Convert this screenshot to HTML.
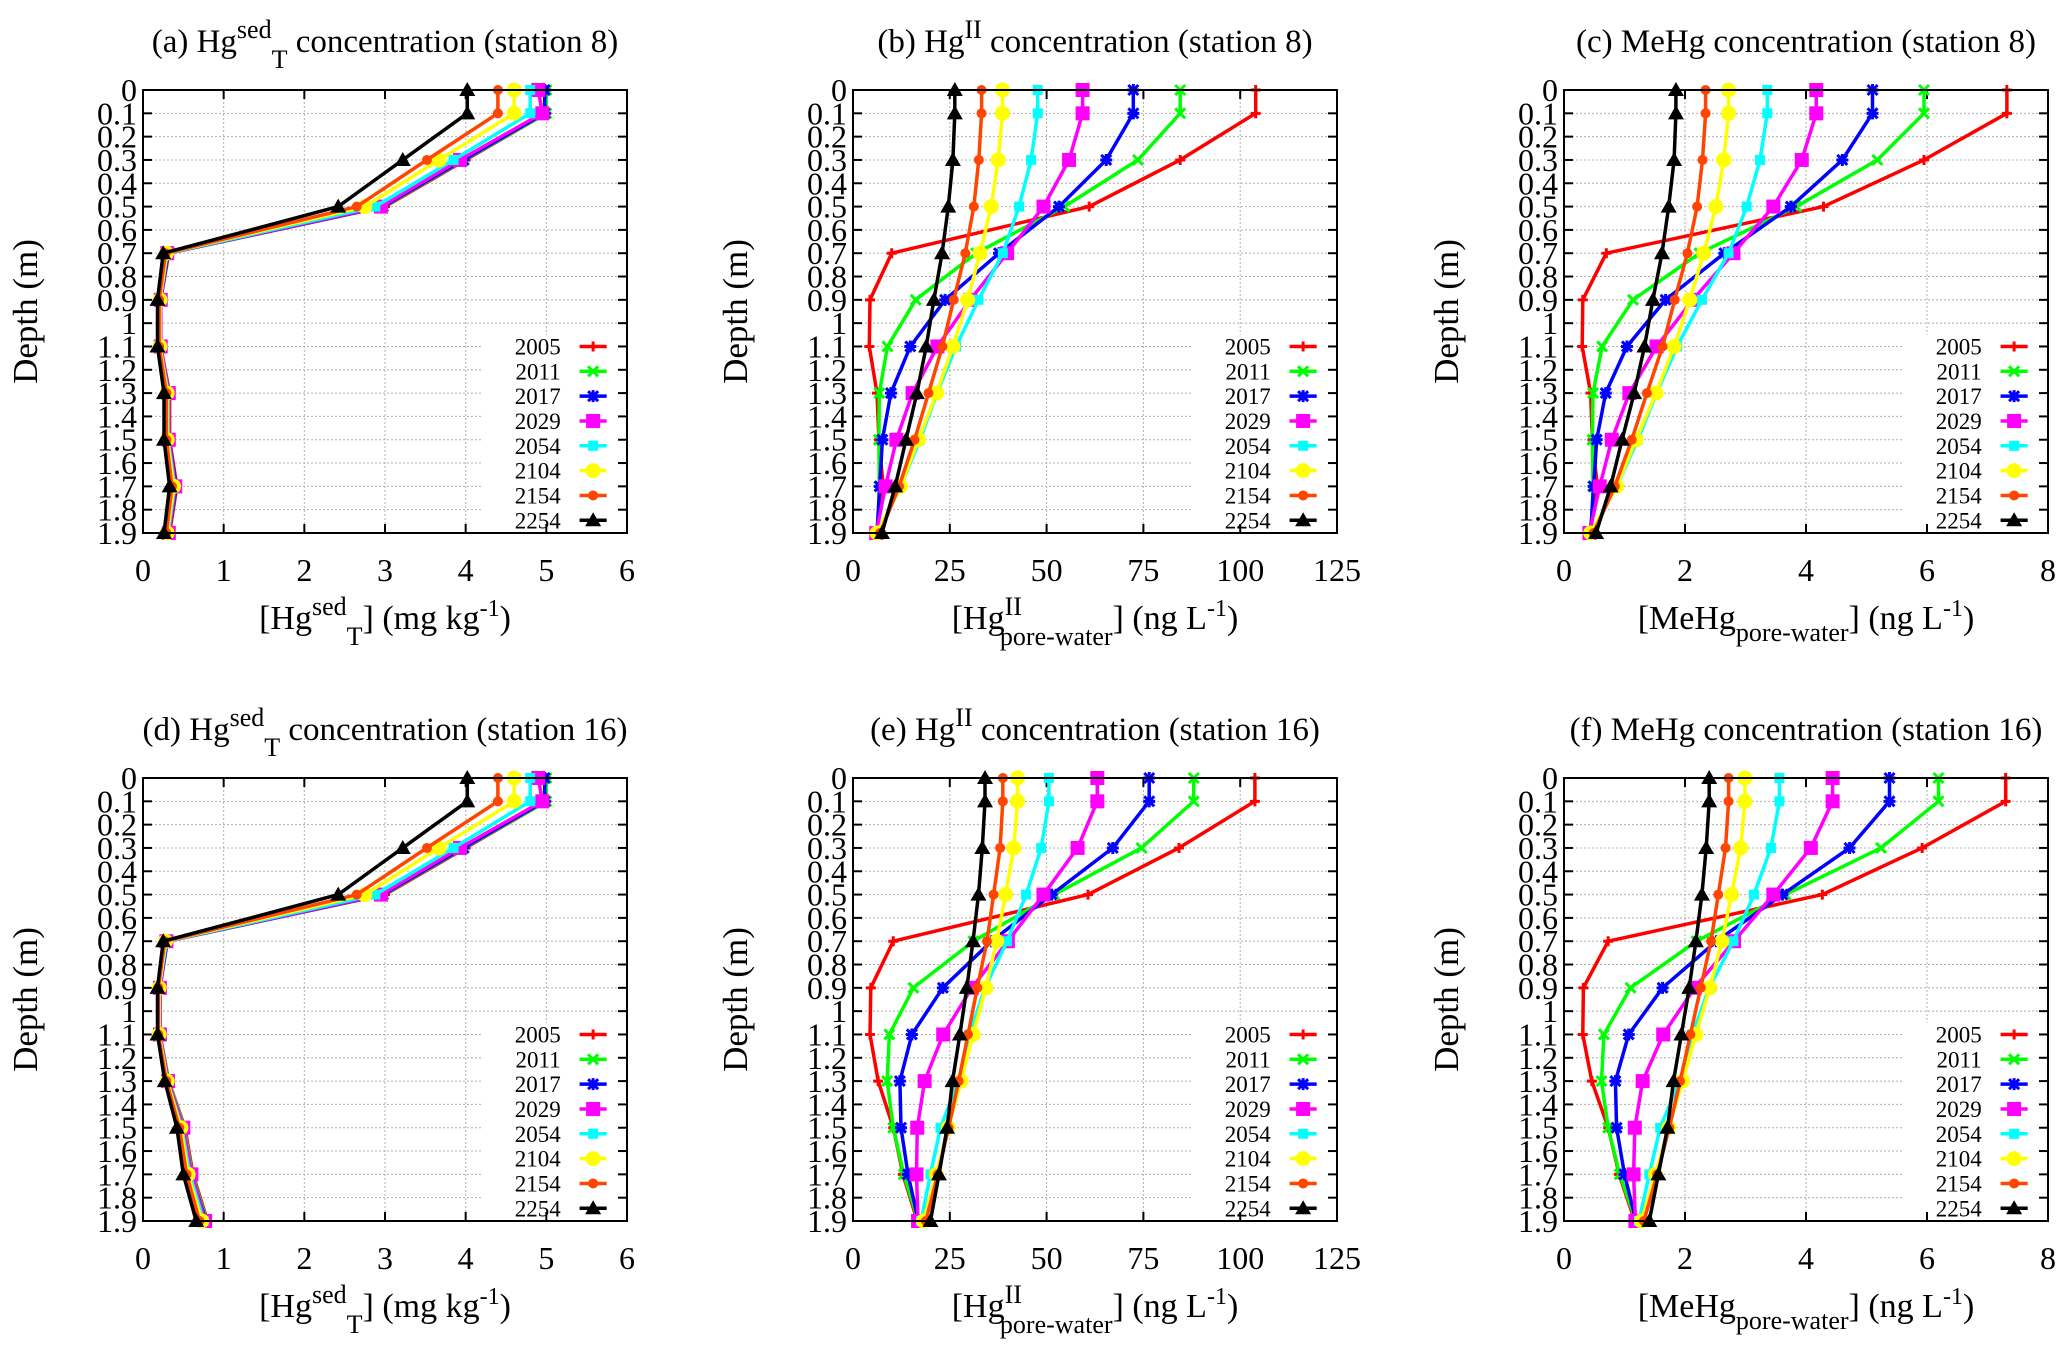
<!DOCTYPE html>
<html><head><meta charset="utf-8">
<style>
html,body{margin:0;padding:0;background:#fff;}
svg{display:block;font-family:"Liberation Serif",serif;}
</style></head>
<body>
<svg id="fig" width="2067" height="1347" viewBox="0 0 2067 1347" xmlns="http://www.w3.org/2000/svg"></svg>
<script>
const depths=[0,0.1,0.3,0.5,0.7,0.9,1.1,1.3,1.5,1.7,1.9];
const years=["2005","2011","2017","2029","2054","2104","2154","2254"];
const yTicks=["0","0.1","0.2","0.3","0.4","0.5","0.6","0.7","0.8","0.9","1","1.1","1.2","1.3","1.4","1.5","1.6","1.7","1.8","1.9"];
const ticksA=["0","1","2","3","4","5","6"];
const ticksB=["0","25","50","75","100","125"];
const ticksC=["0","2","4","6","8"];
// panel a: Hg sed station 8
const a2005=[5.0,5.0,4.0,3.0,0.32,0.22,0.22,0.33,0.33,0.42,0.33];
const a2011=[5.0,5.0,3.98,2.98,0.31,0.22,0.22,0.32,0.32,0.41,0.32];
const a2017=[4.98,4.98,3.97,2.97,0.31,0.22,0.22,0.32,0.32,0.41,0.32];
const a2029=[4.9,4.95,3.93,2.95,0.3,0.22,0.22,0.32,0.32,0.4,0.32];
const a2054=[4.8,4.8,3.85,2.88,0.3,0.21,0.21,0.31,0.31,0.39,0.31];
const a2104=[4.6,4.6,3.67,2.75,0.29,0.21,0.21,0.3,0.3,0.38,0.3];
const a2154=[4.4,4.4,3.52,2.65,0.28,0.2,0.2,0.29,0.29,0.36,0.29];
const a2254=[4.02,4.02,3.22,2.42,0.25,0.18,0.18,0.26,0.26,0.33,0.26];
// panel d: Hg sed station 16
const d2005=[5.0,5.0,4.0,3.0,0.3,0.21,0.21,0.32,0.52,0.62,0.8];
const d2011=[5.0,5.0,3.98,2.98,0.3,0.21,0.21,0.32,0.51,0.61,0.79];
const d2017=[4.98,4.98,3.97,2.97,0.3,0.21,0.21,0.31,0.5,0.6,0.78];
const d2029=[4.9,4.95,3.93,2.95,0.29,0.21,0.21,0.31,0.5,0.6,0.77];
const d2054=[4.8,4.8,3.85,2.88,0.29,0.2,0.2,0.3,0.48,0.58,0.75];
const d2104=[4.6,4.6,3.67,2.75,0.28,0.2,0.2,0.3,0.47,0.56,0.73];
const d2154=[4.4,4.4,3.52,2.65,0.27,0.19,0.19,0.29,0.45,0.54,0.7];
const d2254=[4.02,4.02,3.22,2.42,0.25,0.18,0.18,0.27,0.42,0.5,0.66];
// panel b: HgII station 8
const b2005=[104,104,84.5,61,10,4.4,4.2,6.2,6.7,7.8,6];
const b2011=[84.5,84.5,73.6,54.6,31.8,16.2,8.9,6.8,6.7,6.8,6.4];
const b2017=[72.4,72.4,65.4,53.2,37.7,23.8,14.8,9.8,7.6,6.9,6.2];
const b2029=[59.3,59.3,55.8,49.2,39.8,30.3,21.8,15.4,11.2,8.4,6];
const b2054=[47.7,47.7,46,42.9,38.7,32.4,26.6,21.7,17.3,12.3,6.4];
const b2104=[38.6,38.6,37.5,35.7,32.8,29.6,25.8,21.6,16.9,12.3,6.2];
const b2154=[33.2,33.2,32.5,31.2,29,26,23.1,19.5,15.9,11.9,7];
const b2254=[26.3,26.3,25.8,24.6,23,20.9,18.9,16.5,13.7,10.9,7.5];
// panel e: HgII station 16
const e2005=[103.8,103.8,84.2,60.7,10.4,4.6,4.4,6.5,10.4,12.9,16.6];
const e2011=[88,88,74.5,52,31.1,15.6,9.4,8.8,10.4,13.1,16.9];
const e2017=[76.5,76.5,67.1,51.3,35.8,23.2,15.2,12.1,12.4,14.2,16.9];
const e2029=[63.1,63.1,58,49.2,40,30.7,23.3,18.5,16.6,16.4,16.8];
const e2054=[50.6,50.6,48.6,44.7,39.8,34.1,30.1,27.2,22.6,20,17.6];
const e2104=[42.5,42.5,41.5,39.4,37.1,34.3,31,27.9,24.6,21.5,18.2];
const e2154=[38.7,38.7,38,36.3,34.6,32.1,29.7,27.3,24.7,21.9,18.8];
const e2254=[34.1,34.1,33.4,32.4,31,29.4,27.6,25.7,24.3,22.2,20];
// panel c: MeHg station 8
const c2005=[7.32,7.32,5.95,4.29,0.7,0.31,0.3,0.44,0.47,0.55,0.42];
const c2011=[5.95,5.95,5.18,3.84,2.24,1.14,0.63,0.48,0.47,0.48,0.45];
const c2017=[5.1,5.1,4.6,3.75,2.65,1.68,1.04,0.69,0.54,0.49,0.44];
const c2029=[4.17,4.17,3.93,3.46,2.8,2.13,1.53,1.08,0.79,0.59,0.42];
const c2054=[3.36,3.36,3.24,3.02,2.72,2.28,1.87,1.53,1.22,0.87,0.45];
const c2104=[2.72,2.72,2.64,2.51,2.31,2.08,1.82,1.52,1.19,0.87,0.44];
const c2154=[2.34,2.34,2.29,2.2,2.04,1.83,1.63,1.37,1.12,0.84,0.49];
const c2254=[1.85,1.85,1.82,1.73,1.62,1.47,1.33,1.16,0.96,0.77,0.53];
// panel f: MeHg station 16
const f2005=[7.3,7.3,5.92,4.27,0.73,0.32,0.31,0.46,0.73,0.91,1.17];
const f2011=[6.19,6.19,5.24,3.66,2.19,1.1,0.66,0.62,0.73,0.92,1.19];
const f2017=[5.38,5.38,4.72,3.61,2.52,1.63,1.07,0.85,0.87,1.0,1.19];
const f2029=[4.44,4.44,4.08,3.46,2.81,2.16,1.64,1.3,1.17,1.15,1.18];
const f2054=[3.56,3.56,3.42,3.14,2.8,2.4,2.12,1.91,1.59,1.41,1.24];
const f2104=[2.99,2.99,2.92,2.77,2.61,2.41,2.18,1.96,1.73,1.51,1.28];
const f2154=[2.72,2.72,2.67,2.55,2.43,2.26,2.09,1.92,1.74,1.54,1.32];
const f2254=[2.4,2.4,2.35,2.28,2.18,2.07,1.94,1.81,1.71,1.56,1.41];

const colors=["#ff0000","#00ff00","#0000ff","#ff00ff","#00ffff","#ffff00","#ff4500","#000000"];
const markers=["plus","cross","star","bigsq","smsq","circle","dot","tri"];
const NS="http://www.w3.org/2000/svg";
const svg=document.getElementById('fig');
function mk(tag,attrs,parent){const e=document.createElementNS(NS,tag);for(const k in attrs)e.setAttribute(k,attrs[k]);(parent||svg).appendChild(e);return e;}

const W=484, H=443;
const SUP='font-size="26"';
const tHg='Hg<tspan baseline-shift="super" '+SUP+'>sed</tspan><tspan '+SUP+' dy="16">T</tspan><tspan dy="-16">';
const panels=[
 {id:"a",x:143,y:90,max:6,ticks:ticksA,series:[a2005,a2011,a2017,a2029,a2054,a2104,a2154,a2254],title:'(a) '+tHg+'  concentration (station 8)</tspan>',xt:'['+tHg+'] (mg kg</tspan><tspan baseline-shift="super" font-size="24">-1</tspan>)'},
 {id:"b",x:853,y:90,max:125,ticks:ticksB,series:[b2005,b2011,b2017,b2029,b2054,b2104,b2154,b2254],title:'(b) Hg<tspan baseline-shift="super" '+SUP+'>II</tspan> concentration (station 8)',xt:'[Hg<tspan dy="-14" '+SUP+'>II</tspan><tspan '+SUP+' dx="-22" dy="30">pore-water</tspan><tspan dy="-16">] (ng L</tspan><tspan baseline-shift="super" font-size="24">-1</tspan>)'},
 {id:"c",x:1564,y:90,max:8,ticks:ticksC,series:[c2005,c2011,c2017,c2029,c2054,c2104,c2154,c2254],title:'(c) MeHg concentration (station 8)',xt:'[MeHg<tspan '+SUP+' dy="12">pore-water</tspan><tspan dy="-12">] (ng L</tspan><tspan baseline-shift="super" font-size="24">-1</tspan>)'},
 {id:"d",x:143,y:778,max:6,ticks:ticksA,series:[d2005,d2011,d2017,d2029,d2054,d2104,d2154,d2254],title:'(d) '+tHg+'  concentration (station 16)</tspan>',xt:'['+tHg+'] (mg kg</tspan><tspan baseline-shift="super" font-size="24">-1</tspan>)'},
 {id:"e",x:853,y:778,max:125,ticks:ticksB,series:[e2005,e2011,e2017,e2029,e2054,e2104,e2154,e2254],title:'(e) Hg<tspan baseline-shift="super" '+SUP+'>II</tspan> concentration (station 16)',xt:'[Hg<tspan dy="-14" '+SUP+'>II</tspan><tspan '+SUP+' dx="-22" dy="30">pore-water</tspan><tspan dy="-16">] (ng L</tspan><tspan baseline-shift="super" font-size="24">-1</tspan>)'},
 {id:"f",x:1564,y:778,max:8,ticks:ticksC,series:[f2005,f2011,f2017,f2029,f2054,f2104,f2154,f2254],title:'(f) MeHg concentration (station 16)',xt:'[MeHg<tspan '+SUP+' dy="12">pore-water</tspan><tspan dy="-12">] (ng L</tspan><tspan baseline-shift="super" font-size="24">-1</tspan>)'}
];

function marker(g,type,cx,cy,col){
  let e;
  if(type==="plus"){e=mk('path',{d:`M${cx-5} ${cy}H${cx+5}M${cx} ${cy-5}V${cy+5}`,stroke:col,'stroke-width':3},g);}
  else if(type==="cross"){e=mk('path',{d:`M${cx-5} ${cy-5}L${cx+5} ${cy+5}M${cx+5} ${cy-5}L${cx-5} ${cy+5}`,stroke:col,'stroke-width':3},g);}
  else if(type==="star"){e=mk('path',{d:`M${cx-6} ${cy}H${cx+6}M${cx} ${cy-6}V${cy+6}M${cx-5} ${cy-5}L${cx+5} ${cy+5}M${cx+5} ${cy-5}L${cx-5} ${cy+5}`,stroke:col,'stroke-width':3},g);}
  else if(type==="bigsq"){e=mk('rect',{x:cx-7,y:cy-7,width:14,height:14,fill:col},g);}
  else if(type==="smsq"){e=mk('rect',{x:cx-5,y:cy-5,width:10,height:10,fill:col},g);}
  else if(type==="circle"){e=mk('circle',{cx:cx,cy:cy,r:7.5,fill:col},g);}
  else if(type==="dot"){e=mk('circle',{cx:cx,cy:cy,r:5,fill:col},g);}
  else {e=mk('path',{d:`M${cx} ${cy-8}L${cx+8} ${cy+6}L${cx-8} ${cy+6}Z`,fill:col},g);}
  
  
}

panels.forEach(p=>{
  const g=mk('g',{});
  
  
  const xs=v=>p.x+v/p.max*W;
  const ys=d=>p.y+d/1.9*H;
  const legX=p.x+0.70*W;
  const grid=mk('g',{stroke:'#b0b0b0','stroke-width':1,'stroke-dasharray':'2,2'},g);
  
  
  yTicks.forEach((t,i)=>{const d=i*0.1;const y=ys(d);const xe=(d>=1.05&&d<=1.85)?legX:p.x+W;mk('line',{x1:p.x,y1:y,x2:xe,y2:y},grid);});
  p.ticks.forEach((t,i)=>{const x=xs(+t);const ye=(x>legX)?ys(1.05):p.y+H;mk('line',{x1:x,y1:p.y,x2:x,y2:ye},grid);});
  const tk=mk('g',{stroke:'#000','stroke-width':2},g);
  yTicks.forEach((t,i)=>{const y=ys(i*0.1);mk('line',{x1:p.x,y1:y,x2:p.x+9,y2:y},tk);mk('line',{x1:p.x+W,y1:y,x2:p.x+W-9,y2:y},tk);
    const tl=mk('text',{x:p.x-6,y:y+11,'text-anchor':'end','font-size':32},g);tl.textContent=t;
    });
  p.ticks.forEach(t=>{const x=xs(+t);mk('line',{x1:x,y1:p.y+H,x2:x,y2:p.y+H-9},tk);mk('line',{x1:x,y1:p.y,x2:x,y2:p.y+9},tk);
    const tl=mk('text',{x:x,y:p.y+H+48,'text-anchor':'middle','font-size':32},g);tl.textContent=t;
    });
  p.series.forEach((s,si)=>{
    const sg=mk('g',{},g);
    
    
    const pts=s.map((v,i)=>xs(v).toFixed(1)+','+ys(depths[i]).toFixed(1)).join(' ');
    mk('polyline',{points:pts,fill:'none',stroke:colors[si],'stroke-width':3.5,'stroke-linejoin':'round'},sg);
    s.forEach((v,i)=>marker(sg,markers[si],xs(v),ys(depths[i]),colors[si]));
  });
  const lg=mk('g',{},g);
  
  
  years.forEach((yr,i)=>{
    const y=ys(1.1+i*0.1065);
    const t=mk('text',{x:p.x+0.863*W,y:y+8,'text-anchor':'end','font-size':23},lg);t.textContent=yr;
    
    mk('line',{x1:p.x+0.902*W,y1:y,x2:p.x+0.958*W,y2:y,stroke:colors[i],'stroke-width':3.5},lg);
    marker(lg,markers[i],p.x+0.93*W,y,colors[i]);
  });
  const fr=mk('rect',{x:p.x,y:p.y,width:W,height:H,fill:'none',stroke:'#000','stroke-width':2},g);
  
  const tt=mk('text',{x:p.x+W/2,y:p.y-38,'text-anchor':'middle','font-size':33},g);tt.innerHTML=p.title;
  
  const xt=mk('text',{x:p.x+W/2,y:p.y+H+96,'text-anchor':'middle','font-size':34},g);xt.innerHTML=p.xt;
  
  const yx=p.x-106, yy=p.y+H/2;
  const yt=mk('text',{x:yx,y:yy,'text-anchor':'middle','font-size':35,transform:`rotate(-90 ${yx} ${yy})`},g);yt.textContent='Depth (m)';
  
});
</script>
</body></html>
